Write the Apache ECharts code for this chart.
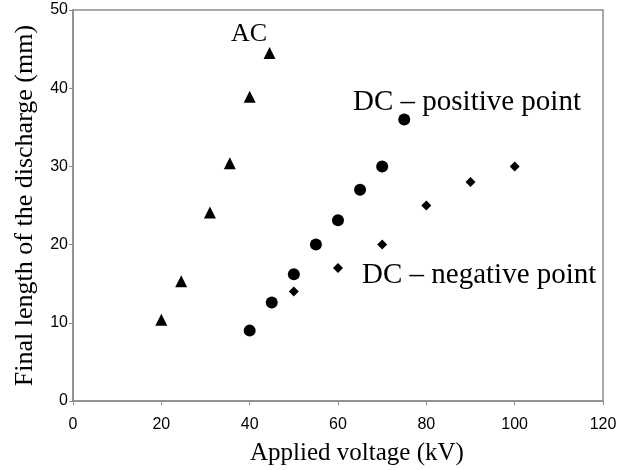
<!DOCTYPE html>
<html>
<head>
<meta charset="utf-8">
<script src="https://cdn.jsdelivr.net/npm/echarts@6/dist/echarts.min.js"></script>
<style>
  html, body { margin: 0; padding: 0; background: #fff; }
  #chart { width: 635px; height: 470px; }
</style>
</head>
<body>
<div id="chart"></div>
<script>
// Discharge length vs applied voltage for three electrode configurations
const acVoltage = [20, 24.5, 31, 35.5, 40, 44.5];
const acLength = [10.4, 15.3, 24.1, 30.4, 38.9, 44.5];

const dcPosVoltage = [40, 45, 50, 55, 60, 65, 70, 75];
const dcPosLength = [9.0, 12.6, 16.2, 20.0, 23.1, 27.0, 30.0, 36.0];

const dcNegVoltage = [50, 60, 70, 80, 90, 100];
const dcNegLength = [14.0, 17.0, 20.0, 25.0, 28.0, 30.0];

const xTicks = [0, 20, 40, 60, 80, 100, 120];
const yTicks = [0, 10, 20, 30, 40, 50];

const zip = (xs, ys) => xs.map((x, i) => [x, ys[i]]);

const serif = '"Liberation Serif", "Times New Roman", serif';
const sans = '"Liberation Sans", Arial, sans-serif';
const axisGray = '#8c8c8c';
const markStyle = { color: '#000', opacity: 1 };

const chart = echarts.init(document.getElementById('chart'), null, { renderer: 'canvas' });

chart.setOption({
  backgroundColor: '#ffffff',
  animation: false,
  grid: { left: 73, right: 32, top: 10, bottom: 69, show: true, borderColor: axisGray, borderWidth: 1.5 },
  xAxis: {
    type: 'value',
    min: xTicks[0], max: xTicks[xTicks.length - 1], interval: 20,
    axisLine: { show: true, lineStyle: { color: axisGray, width: 1.5 } },
    axisTick: { show: true, length: 4, lineStyle: { color: axisGray } },
    axisLabel: { fontFamily: sans, fontSize: 16, color: '#000', margin: 16 },
    splitLine: { show: false }
  },
  yAxis: {
    type: 'value',
    min: yTicks[0], max: yTicks[yTicks.length - 1], interval: 10,
    name: 'Final length of the discharge (mm)',
    nameLocation: 'middle', nameGap: 35,
    nameTextStyle: { fontFamily: serif, fontSize: 26, color: '#000' },
    axisLine: { show: true, lineStyle: { color: axisGray, width: 1.5 } },
    axisTick: { show: true, length: 4, lineStyle: { color: axisGray } },
    axisLabel: { fontFamily: sans, fontSize: 16, color: '#000', margin: 5 },
    splitLine: { show: false }
  },
  series: [
    {
      name: 'AC', type: 'scatter', symbol: 'triangle', symbolSize: 12,
      itemStyle: markStyle, data: zip(acVoltage, acLength)
    },
    {
      name: 'DC – positive point', type: 'scatter', symbol: 'circle', symbolSize: 12,
      itemStyle: markStyle, data: zip(dcPosVoltage, dcPosLength)
    },
    {
      name: 'DC – negative point', type: 'scatter', symbol: 'diamond', symbolSize: 10,
      itemStyle: markStyle, data: zip(dcNegVoltage, dcNegLength)
    }
  ],
  graphic: [
    { type: 'text', left: 250, top: 441, style: { text: 'Applied voltage (kV)', font: '25px ' + serif, fill: '#000' } },
    { type: 'text', left: 231, top: 21, style: { text: 'AC', font: '26px ' + serif, fill: '#000' } },
    { type: 'text', left: 353, top: 88, style: { text: 'DC – positive point', font: '29px ' + serif, fill: '#000' } },
    { type: 'text', left: 362, top: 261, style: { text: 'DC – negative point', font: '29px ' + serif, fill: '#000' } }
  ]
});
</script>
</body>
</html>
